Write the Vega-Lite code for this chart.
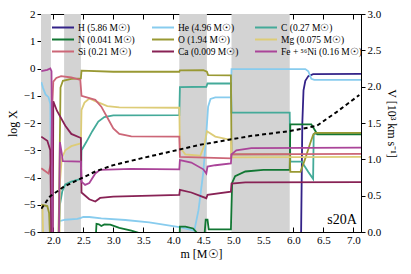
{
 "$schema": "https://vega.github.io/schema/vega-lite/v6.json",
 "width": 320, "height": 218,
 "autosize": "none",
 "padding": {"left": 41, "top": 14, "right": 50, "bottom": 42},
 "config": {
  "font": "Liberation Serif",
  "view": {"stroke": "black", "strokeWidth": 1},
  "axis": {"domainColor": "black", "tickColor": "black", "labelColor": "black", "titleColor": "black", "labelFontSize": 11, "titleFontSize": 12, "titleFontWeight": "normal", "grid": false, "labelFont": "Liberation Serif", "titleFont": "Liberation Serif"},
  "axisX": {"values": [1.8,1.9,2.0,2.1,2.2,2.3,2.4,2.5,2.6,2.7,2.8,2.9,3.0,3.1,3.2,3.3,3.4,3.5,3.6,3.7,3.8,3.9,4.0,4.1,4.2,4.3,4.4,4.5,4.6,4.7,4.8,4.9,5.0,5.1,5.2,5.3,5.4,5.5,5.6,5.7,5.8,5.9,6.0,6.1,6.2,6.3,6.4,6.5,6.6,6.7,6.8,6.9,7.0,7.1], "labelExpr": "abs(datum.value*2 - round(datum.value*2)) < 0.001 ? format(datum.value, '.1f') : ''", "labelFlush": false, "labelOverlap": false, "titlePadding": 3}
 },
 "datasets": {
  "gray": [{"a": 1.795, "b": 1.96}, {"a": 2.18, "b": 2.46}, {"a": 4.1, "b": 4.56}, {"a": 4.97, "b": 5.94}],
  "lbl": [{"m": 7.06, "X": -5.56, "t": "s20A"}],
  "vel": [
   {"m": 1.8, "V": 0.32}, {"m": 1.945, "V": 0.49}, {"m": 2.17, "V": 0.62}, {"m": 2.445, "V": 0.73}, {"m": 2.72, "V": 0.84}, {"m": 3.0, "V": 0.92}, {"m": 3.445, "V": 1.01}, {"m": 4.445, "V": 1.2}, {"m": 5.28, "V": 1.32}, {"m": 5.945, "V": 1.39}, {"m": 6.39, "V": 1.46}, {"m": 6.72, "V": 1.65}, {"m": 7.1, "V": 1.885}
  ],
  "ab": [
   {"e": "H", "m": 1.8, "X": -7}, {"e": "H", "m": 6.12, "X": -7}, {"e": "H", "m": 6.13, "X": -6}, {"e": "H", "m": 6.15, "X": -2}, {"e": "H", "m": 6.17, "X": -0.8}, {"e": "H", "m": 6.2, "X": -0.45}, {"e": "H", "m": 6.25, "X": -0.28}, {"e": "H", "m": 6.33, "X": -0.21}, {"e": "H", "m": 7.13, "X": -0.2},

   {"e": "He", "m": 1.8, "X": -0.5}, {"e": "He", "m": 1.83, "X": -0.72}, {"e": "He", "m": 1.87, "X": -0.95}, {"e": "He", "m": 1.92, "X": -1.05}, {"e": "He", "m": 1.95, "X": -1.3}, {"e": "He", "m": 1.97, "X": -7}, {"e": "He", "m": 2.08, "X": -7}, {"e": "He", "m": 2.1, "X": -5.6}, {"e": "He", "m": 2.2, "X": -5.55}, {"e": "He", "m": 2.4, "X": -5.52}, {"e": "He", "m": 2.46, "X": -5.48}, {"e": "He", "m": 2.5, "X": -5.45}, {"e": "He", "m": 2.6, "X": -5.45}, {"e": "He", "m": 2.8, "X": -5.5}, {"e": "He", "m": 3.2, "X": -5.56}, {"e": "He", "m": 3.6, "X": -5.65}, {"e": "He", "m": 4.1, "X": -5.82}, {"e": "He", "m": 4.3, "X": -5.92}, {"e": "He", "m": 4.35, "X": -5.95}, {"e": "He", "m": 4.42, "X": -5.2}, {"e": "He", "m": 4.5, "X": -3.8}, {"e": "He", "m": 4.55, "X": -2.4}, {"e": "He", "m": 4.58, "X": -1.4}, {"e": "He", "m": 4.62, "X": -1.12}, {"e": "He", "m": 4.7, "X": -1.06}, {"e": "He", "m": 4.96, "X": -1.06}, {"e": "He", "m": 4.97, "X": -0.02}, {"e": "He", "m": 6.2, "X": -0.02}, {"e": "He", "m": 6.25, "X": -0.1}, {"e": "He", "m": 6.3, "X": -0.38}, {"e": "He", "m": 6.35, "X": -0.42}, {"e": "He", "m": 7.13, "X": -0.42},

   {"e": "C", "m": 2.08, "X": -7}, {"e": "C", "m": 2.11, "X": -5.0}, {"e": "C", "m": 2.15, "X": -4.5}, {"e": "C", "m": 2.2, "X": -4.25}, {"e": "C", "m": 2.3, "X": -4.15}, {"e": "C", "m": 2.46, "X": -4.05}, {"e": "C", "m": 2.47, "X": -3.0}, {"e": "C", "m": 2.55, "X": -2.7}, {"e": "C", "m": 2.65, "X": -2.3}, {"e": "C", "m": 2.75, "X": -1.95}, {"e": "C", "m": 2.85, "X": -1.78}, {"e": "C", "m": 3.0, "X": -1.72}, {"e": "C", "m": 4.1, "X": -1.71}, {"e": "C", "m": 4.11, "X": -0.68}, {"e": "C", "m": 4.55, "X": -0.67}, {"e": "C", "m": 4.57, "X": -0.55}, {"e": "C", "m": 4.96, "X": -0.55}, {"e": "C", "m": 4.97, "X": -1.62}, {"e": "C", "m": 5.94, "X": -1.62}, {"e": "C", "m": 5.95, "X": -3.42}, {"e": "C", "m": 6.14, "X": -3.42}, {"e": "C", "m": 6.25, "X": -3.8}, {"e": "C", "m": 6.33, "X": -4.05}, {"e": "C", "m": 6.34, "X": -2.4}, {"e": "C", "m": 7.13, "X": -2.38},

   {"e": "N", "m": 2.7, "X": -6.5}, {"e": "N", "m": 2.72, "X": -5.7}, {"e": "N", "m": 2.76, "X": -5.72}, {"e": "N", "m": 2.8, "X": -5.78}, {"e": "N", "m": 2.85, "X": -5.72}, {"e": "N", "m": 2.95, "X": -5.73}, {"e": "N", "m": 3.1, "X": -5.85}, {"e": "N", "m": 3.3, "X": -5.95}, {"e": "N", "m": 3.45, "X": -6.05}, {"e": "N", "m": 4.1, "X": -6.5}, {"e": "N", "m": 4.11, "X": -5.8}, {"e": "N", "m": 4.2, "X": -5.8}, {"e": "N", "m": 4.33, "X": -5.87}, {"e": "N", "m": 4.42, "X": -6.1}, {"e": "N", "m": 4.52, "X": -6.1}, {"e": "N", "m": 4.54, "X": -5.55}, {"e": "N", "m": 4.57, "X": -5.55}, {"e": "N", "m": 4.59, "X": -5.9}, {"e": "N", "m": 4.96, "X": -5.9}, {"e": "N", "m": 4.98, "X": -4.2}, {"e": "N", "m": 5.03, "X": -3.95}, {"e": "N", "m": 5.2, "X": -3.78}, {"e": "N", "m": 5.5, "X": -3.72}, {"e": "N", "m": 5.94, "X": -3.72}, {"e": "N", "m": 5.95, "X": -2.05}, {"e": "N", "m": 6.3, "X": -2.05}, {"e": "N", "m": 6.37, "X": -2.3}, {"e": "N", "m": 6.4, "X": -2.42}, {"e": "N", "m": 7.13, "X": -2.42},

   {"e": "O", "m": 1.8, "X": -5.0}, {"e": "O", "m": 1.9, "X": -5.05}, {"e": "O", "m": 1.93, "X": -5.3}, {"e": "O", "m": 1.96, "X": -7}, {"e": "O", "m": 2.08, "X": -7}, {"e": "O", "m": 2.1, "X": -4.3}, {"e": "O", "m": 2.12, "X": -0.7}, {"e": "O", "m": 2.16, "X": -0.45}, {"e": "O", "m": 2.3, "X": -0.38}, {"e": "O", "m": 2.46, "X": -0.36}, {"e": "O", "m": 2.47, "X": -0.08}, {"e": "O", "m": 3.0, "X": -0.12}, {"e": "O", "m": 4.1, "X": -0.12}, {"e": "O", "m": 4.11, "X": -0.07}, {"e": "O", "m": 4.5, "X": -0.06}, {"e": "O", "m": 4.56, "X": -0.12}, {"e": "O", "m": 4.58, "X": -0.24}, {"e": "O", "m": 4.96, "X": -0.25}, {"e": "O", "m": 4.97, "X": -3.15}, {"e": "O", "m": 5.94, "X": -3.15}, {"e": "O", "m": 5.95, "X": -3.79}, {"e": "O", "m": 6.12, "X": -3.79}, {"e": "O", "m": 6.2, "X": -3.3}, {"e": "O", "m": 6.28, "X": -2.75}, {"e": "O", "m": 6.33, "X": -2.44}, {"e": "O", "m": 6.36, "X": -2.36}, {"e": "O", "m": 7.13, "X": -2.36},

   {"e": "Mg", "m": 1.8, "X": -5.0}, {"e": "Mg", "m": 1.82, "X": -5.1}, {"e": "Mg", "m": 1.84, "X": -7}, {"e": "Mg", "m": 2.1, "X": -7}, {"e": "Mg", "m": 2.11, "X": -4.2}, {"e": "Mg", "m": 2.14, "X": -3.3}, {"e": "Mg", "m": 2.2, "X": -3.0}, {"e": "Mg", "m": 2.3, "X": -2.85}, {"e": "Mg", "m": 2.46, "X": -2.75}, {"e": "Mg", "m": 2.47, "X": -1.52}, {"e": "Mg", "m": 2.52, "X": -1.25}, {"e": "Mg", "m": 2.6, "X": -1.1}, {"e": "Mg", "m": 2.7, "X": -1.2}, {"e": "Mg", "m": 2.9, "X": -1.38}, {"e": "Mg", "m": 3.1, "X": -1.43}, {"e": "Mg", "m": 4.1, "X": -1.44}, {"e": "Mg", "m": 4.11, "X": -2.9}, {"e": "Mg", "m": 4.2, "X": -3.15}, {"e": "Mg", "m": 4.45, "X": -3.2}, {"e": "Mg", "m": 4.52, "X": -2.8}, {"e": "Mg", "m": 4.56, "X": -2.3}, {"e": "Mg", "m": 4.7, "X": -2.5}, {"e": "Mg", "m": 4.96, "X": -2.62}, {"e": "Mg", "m": 4.97, "X": -3.26}, {"e": "Mg", "m": 7.13, "X": -3.24},

   {"e": "Si", "m": 1.8, "X": -3.66}, {"e": "Si", "m": 1.92, "X": -3.85}, {"e": "Si", "m": 1.96, "X": -3.5}, {"e": "Si", "m": 1.98, "X": -1.5}, {"e": "Si", "m": 2.0, "X": -0.48}, {"e": "Si", "m": 2.05, "X": -0.35}, {"e": "Si", "m": 2.13, "X": -0.28}, {"e": "Si", "m": 2.3, "X": -0.33}, {"e": "Si", "m": 2.45, "X": -0.42}, {"e": "Si", "m": 2.47, "X": -1.0}, {"e": "Si", "m": 2.7, "X": -1.15}, {"e": "Si", "m": 2.8, "X": -1.4}, {"e": "Si", "m": 2.9, "X": -1.8}, {"e": "Si", "m": 3.0, "X": -2.2}, {"e": "Si", "m": 3.1, "X": -2.4}, {"e": "Si", "m": 3.3, "X": -2.49}, {"e": "Si", "m": 4.1, "X": -2.5}, {"e": "Si", "m": 4.11, "X": -3.24}, {"e": "Si", "m": 4.96, "X": -3.3}, {"e": "Si", "m": 4.97, "X": -3.15}, {"e": "Si", "m": 7.13, "X": -3.13},

   {"e": "Ca", "m": 1.8, "X": -2.5}, {"e": "Ca", "m": 1.9, "X": -2.65}, {"e": "Ca", "m": 1.95, "X": -3.0}, {"e": "Ca", "m": 1.97, "X": -7}, {"e": "Ca", "m": 1.99, "X": -7}, {"e": "Ca", "m": 2.0, "X": -1.2}, {"e": "Ca", "m": 2.06, "X": -1.55}, {"e": "Ca", "m": 2.2, "X": -2.1}, {"e": "Ca", "m": 2.3, "X": -2.4}, {"e": "Ca", "m": 2.46, "X": -2.55}, {"e": "Ca", "m": 2.47, "X": -4.55}, {"e": "Ca", "m": 2.6, "X": -4.8}, {"e": "Ca", "m": 2.7, "X": -4.88}, {"e": "Ca", "m": 2.78, "X": -4.75}, {"e": "Ca", "m": 3.0, "X": -4.7}, {"e": "Ca", "m": 4.1, "X": -4.64}, {"e": "Ca", "m": 4.11, "X": -4.45}, {"e": "Ca", "m": 4.3, "X": -4.55}, {"e": "Ca", "m": 4.55, "X": -4.76}, {"e": "Ca", "m": 4.57, "X": -4.64}, {"e": "Ca", "m": 4.96, "X": -4.52}, {"e": "Ca", "m": 4.97, "X": -4.22}, {"e": "Ca", "m": 5.2, "X": -4.18}, {"e": "Ca", "m": 7.13, "X": -4.17},

   {"e": "Fe", "m": 1.8, "X": -0.1}, {"e": "Fe", "m": 1.9, "X": -0.05}, {"e": "Fe", "m": 1.95, "X": 0.0}, {"e": "Fe", "m": 1.97, "X": -0.1}, {"e": "Fe", "m": 1.99, "X": -7}, {"e": "Fe", "m": 2.09, "X": -7}, {"e": "Fe", "m": 2.11, "X": -2.7}, {"e": "Fe", "m": 2.14, "X": -3.1}, {"e": "Fe", "m": 2.16, "X": -3.4}, {"e": "Fe", "m": 2.46, "X": -3.42}, {"e": "Fe", "m": 2.47, "X": -4.15}, {"e": "Fe", "m": 2.53, "X": -4.27}, {"e": "Fe", "m": 2.6, "X": -4.2}, {"e": "Fe", "m": 2.7, "X": -3.85}, {"e": "Fe", "m": 2.78, "X": -3.72}, {"e": "Fe", "m": 3.3, "X": -3.68}, {"e": "Fe", "m": 4.1, "X": -3.7}, {"e": "Fe", "m": 4.11, "X": -3.36}, {"e": "Fe", "m": 4.3, "X": -3.45}, {"e": "Fe", "m": 4.5, "X": -3.7}, {"e": "Fe", "m": 4.55, "X": -3.85}, {"e": "Fe", "m": 4.57, "X": -3.6}, {"e": "Fe", "m": 4.7, "X": -3.55}, {"e": "Fe", "m": 4.96, "X": -3.48}, {"e": "Fe", "m": 4.97, "X": -3.15}, {"e": "Fe", "m": 5.05, "X": -3.0}, {"e": "Fe", "m": 5.3, "X": -2.92}, {"e": "Fe", "m": 7.13, "X": -2.9}
  ]
 },
 "layer": [
  {
   "data": {"name": "gray"},
   "mark": {"type": "rect", "color": "#d3d3d3", "clip": true},
   "encoding": {
    "x": {"field": "a", "type": "quantitative", "scale": {"domain": [1.795, 7.128], "nice": false, "zero": false}, "axis": null},
    "x2": {"field": "b"}
   }
  },
  {
   "data": {"name": "ab"},
   "mark": {"type": "line", "strokeWidth": 1.8, "clip": true},
   "encoding": {
    "x": {"field": "m", "type": "quantitative", "axis": {"orient": "bottom", "title": "m [M☉]", "tickSize": {"condition": {"test": "abs(datum.value*2 - round(datum.value*2)) < 0.001", "value": -5}, "value": -2.5}, "labelPadding": 7}},
    "y": {"field": "X", "type": "quantitative", "scale": {"domain": [-6, 2], "nice": false}, "axis": {"orient": "left", "title": "log X", "values": [-6,-5,-4,-3,-2,-1,0,1,2], "tickSize": 4, "labelPadding": 2, "titlePadding": 4, "labelOverlap": false}},
    "color": {"field": "e", "type": "nominal", "scale": {"domain": ["H","N","Si","He","O","Ca","C","Mg","Fe"], "range": ["#332288","#117733","#CC6677","#88CCEE","#999933","#882255","#44AA99","#DDCC77","#AA4499"]},
     "legend": {"orient": "none", "legendX": 15.5, "legendY": 7, "padding": 0, "columns": 3, "columnPadding": 12, "rowPadding": 1, "title": null, "symbolType": "M-2,0H2", "symbolSize": 121, "symbolStrokeWidth": 2, "labelFontSize": 9.5, "labelFont": "Liberation Serif", "labelOffset": 8.5,
      "labelExpr": "{'H':'H (5.86 M☉)','He':'He (4.96 M☉)','C':'C (0.27 M☉)','N':'N (0.041 M☉)','O':'O (1.94 M☉)','Mg':'Mg (0.075 M☉)','Si':'Si (0.21 M☉)','Ca':'Ca (0.009 M☉)','Fe':'Fe + ⁵⁶Ni (0.16 M☉)'}[datum.label]"}}
   }
  },
  {
   "data": {"name": "lbl"},
   "mark": {"type": "text", "align": "right", "baseline": "middle", "fontSize": 14, "font": "Liberation Serif", "color": "black"},
   "encoding": {
    "x": {"field": "m", "type": "quantitative", "axis": null},
    "y": {"field": "X", "type": "quantitative", "scale": {"domain": [-6, 2], "nice": false}, "axis": null},
    "text": {"field": "t"}
   }
  },
  {
   "data": {"name": "vel"},
   "mark": {"type": "line", "color": "black", "strokeWidth": 2, "strokeDash": [4, 3], "clip": true},
   "encoding": {
    "x": {"field": "m", "type": "quantitative", "axis": {"orient": "top", "title": null, "labels": false, "tickSize": {"condition": {"test": "abs(datum.value*2 - round(datum.value*2)) < 0.001", "value": -5}, "value": -2.5}}},
    "y": {"field": "V", "type": "quantitative", "scale": {"domain": [0, 3], "nice": false}, "axis": {"orient": "right", "title": "V [10³ km s⁻¹]", "values": [0,0.5,1,1.5,2,2.5,3], "format": ".1f", "tickSize": 4, "labelPadding": 2, "titlePadding": 4}}
   }
  }
 ],
 "resolve": {"scale": {"y": "independent"}, "axis": {"x": "independent"}}
}
